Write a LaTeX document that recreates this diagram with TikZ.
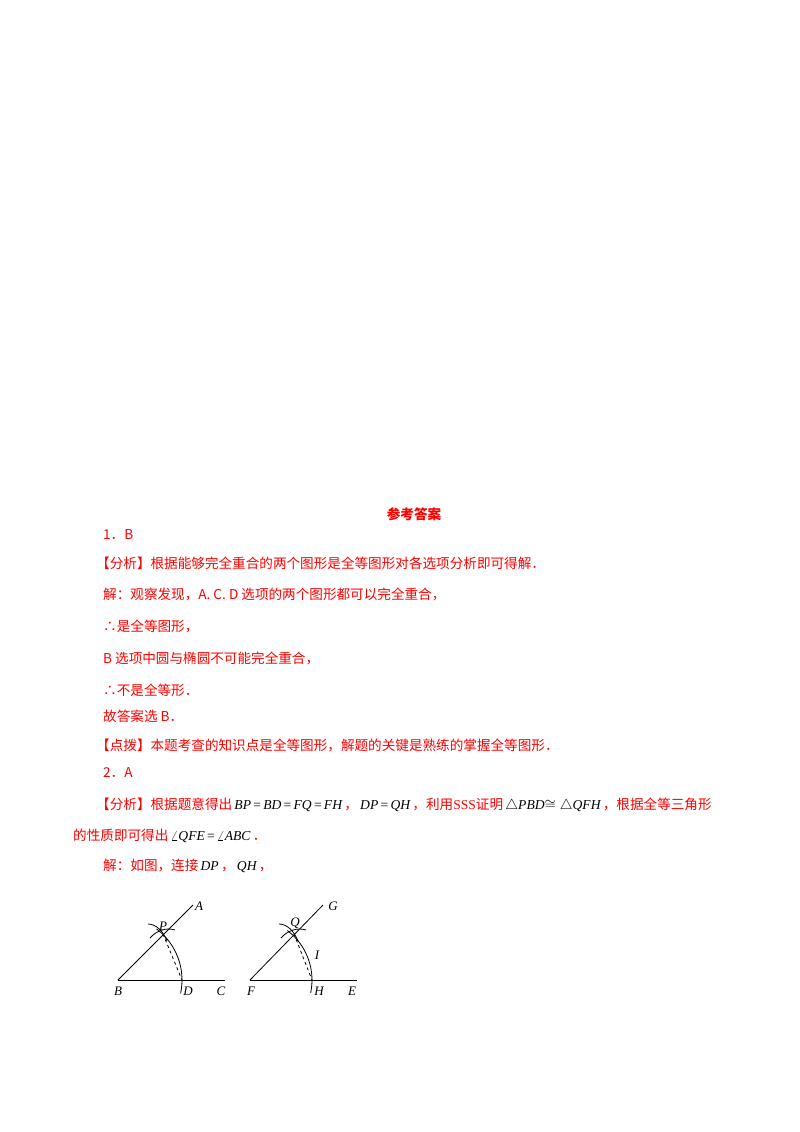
\documentclass[tikz,border=0pt]{standalone}
\usepackage{fontspec}
\setmainfont{Liberation Serif}
\newfontfamily\cjk{Noto Sans CJK SC}
\newfontfamily\lser{Liberation Serif}
\newcommand{\mv}[1]{\textcolor{black}{\lser\itshape #1}}
\newcommand{\mo}[1]{\textcolor{black}{\lser #1}}
\begin{document}
\begin{tikzpicture}[x=1pt,y=-1pt,
  t/.style={anchor=west,inner sep=0pt,text=red,font=\cjk\fontsize{13.6}{14}\selectfont},
  lab/.style={inner sep=0pt,font=\lser\itshape\fontsize{13}{13}\selectfont},
  fl/.style={line width=0.8pt}]
\useasboundingbox (0,0) rectangle (800,1132);
\node[inner sep=0pt,text=red,font=\cjk\bfseries\fontsize{13.6}{14}\selectfont] (title) at (414,514) {参考答案};
\node[t] (l1) at (103,535) {1．B};
\node[t] (l2) at (96,563) {【分析】根据能够完全重合的两个图形是全等图形对各选项分析即可得解．};
\node[t] (l3) at (103,594) {解：观察发现，A. C. D 选项的两个图形都可以完全重合，};
\node[t] (l4) at (103,626) {∴是全等图形，};
\node[t] (l5) at (103,658) {B 选项中圆与椭圆不可能完全重合，};
\node[t] (l6) at (103,690) {∴不是全等形．};
\node[t] (l7) at (103,716) {故答案选 B．};
\node[t] (l8) at (96,745) {【点拨】本题考查的知识点是全等图形，解题的关键是熟练的掌握全等图形．};
\node[t] (l9) at (103,773) {2．A};
\node[t] (l10) at (96,805) {【分析】根据题意得出\,\mv{BP}\mo{\,=\,}\mv{BD}\mo{\,=\,}\mv{FQ}\mo{\,=\,}\mv{FH}\,，\,\mv{DP}\mo{\,=\,}\mv{QH}\,，利用{\lser SSS}证明\,\textcolor{black}{$\triangle$}\mv{PBD}\textcolor{black}{$\cong\triangle$}\mv{QFH}\,，根据全等三角形};
\node[t] (l11) at (73,836) {的性质即可得出\,\textcolor{black}{$\angle$}\mv{QFE}\mo{\,=\,}\textcolor{black}{$\angle$}\mv{ABC}\,．};
\node[t] (l12) at (103,866) {解：如图，连接\,\mv{DP}\,，\,\mv{QH}\,，};
% left figure
\coordinate (B) at (118,980); \coordinate (C0) at (225,980); \coordinate (A0) at (193,905);
\coordinate (P) at (163,934); \coordinate (D) at (182,980);
\draw[fl] (B)--(C0); \draw[fl] (B)--(A0);
\draw[fl] (B) ++(12:64) arc[start angle=12,end angle=-53,radius=64];
\draw[fl,dashed] (P)--(D);
\draw[fl] (148,924) .. controls (156,924) and (163,931) .. (167,941);
\draw[fl] (150,938) .. controls (156,931) and (166,927) .. (175,930);
\node[lab] (Bl) at (118,991) {B}; \node[lab] (Dl) at (188,991) {D}; \node[lab] (Cl) at (221,991) {C};
\node[lab] (Al) at (199,906) {A}; \node[lab] (Pl) at (163,926) {P};
% right figure
\coordinate (F) at (250,980); \coordinate (E0) at (357,980); \coordinate (G0) at (323,905);
\coordinate (Q) at (294,934); \coordinate (H) at (312,980);
\draw[fl] (F)--(E0); \draw[fl] (F)--(G0);
\draw[fl] (F) ++(12:62) arc[start angle=12,end angle=-53,radius=62];
\draw[fl,dashed] (Q)--(H);
\draw[fl] (279,924) .. controls (287,924) and (294,931) .. (298,941);
\draw[fl] (281,938) .. controls (287,931) and (297,927) .. (306,930);
\node[lab] (Fl) at (251,991) {F}; \node[lab] (Hl) at (319,991) {H}; \node[lab] (El) at (352,991) {E};
\node[lab] (Gl) at (333,906) {G}; \node[lab] (Ql) at (295,923) {Q}; \node[lab] (Il) at (317,955) {I};
\end{tikzpicture}
\end{document}
